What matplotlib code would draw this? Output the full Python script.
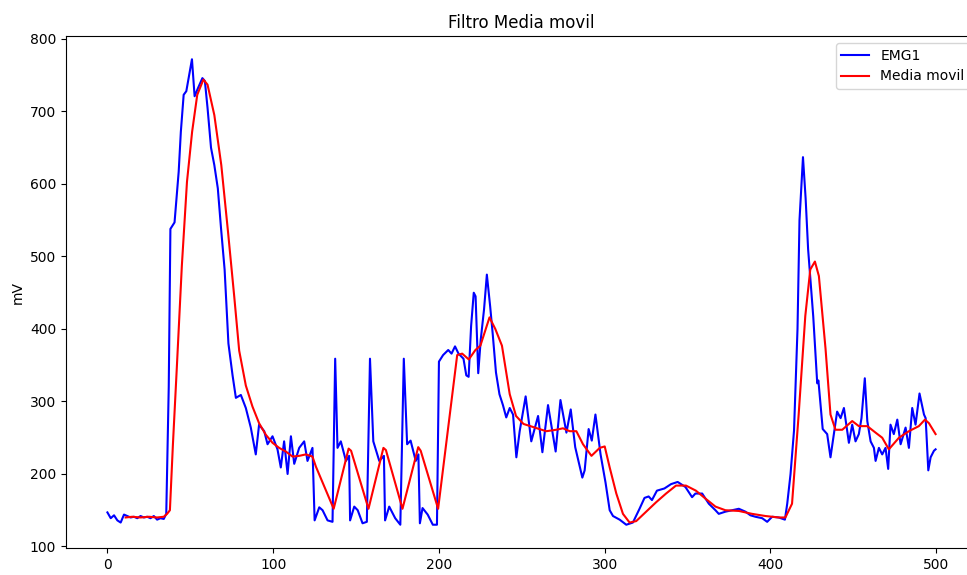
import matplotlib
matplotlib.use("Agg")
from matplotlib import pyplot as plt

# EMG1 signal (sample index, mV)
emg_x = [0, 2, 4, 6, 8, 10, 12, 14, 16, 18, 20, 22, 24, 26, 28, 30, 32, 34, 35.5, 37, 38, 40.5, 43, 44.3, 46,
         47.6, 51, 52.6, 54.6, 57.3, 58.8, 60.4, 62.5, 64.5, 66.6, 68.5, 70.7, 73, 75.5, 77.5, 80.5, 83.5, 86.5,
         89.5, 91.5, 94.6, 96.6, 99.6, 102.6, 104.6, 106.6, 108.7, 110.7, 112.7, 115.7, 118.7, 120.7, 123.7,
         125, 127.8, 129.8, 132.8, 135.8, 137.4, 138.8, 140.8, 143.9, 145.8, 146.4, 148.9, 151, 153.9, 156.5,
         158.4, 160.4, 164, 166.8, 167.5, 170, 173.6, 176.7, 178.8, 180.8, 182.9, 186, 187.6, 188.5, 190.1,
         193.2, 196.3, 198.8, 200, 202.5, 205.6, 207.6, 209.7, 211.8, 214.8, 216.5, 217.9, 219.4, 221, 222.1,
         223.7, 225.2, 227.2, 228.9, 230.9, 232.4, 234.4, 236.5, 238.6, 240.6, 242.7, 244.7, 246.7, 248.7,
         252.3, 255.7, 259.8, 262.4, 265.8, 270.4, 273.3, 275.3, 276.9, 279.5, 282.2, 286.5, 287.9, 290.3,
         292.2, 294.4, 297.5, 300.5, 303, 305, 309, 313, 317, 321, 324, 326.5, 328.5, 331.5, 336, 340, 344,
         348.7, 352.7, 354.7, 358.8, 362.8, 366.8, 368.8, 372.8, 376.9, 380.9, 384.9, 387.9, 390.9, 395, 398,
         401, 405, 408.7, 410.1, 412.1, 414.2, 416.3, 417.5, 419.6, 421.2, 422.7, 425.8, 428.2, 428.9, 431.5,
         434.2, 436.2, 438.2, 440.2, 442.3, 444.3, 446.3, 447.3, 449.3, 451.3, 453.3, 454.9, 456.9, 458.4,
         460.4, 462.4, 463.4, 465.4, 467.4, 469.4, 471, 472.4, 474.4, 476.5, 478.5, 481.5, 483.5, 485.5,
         487.5, 489.9, 492.6, 493.6, 495.2, 496.6, 498.6, 499.6]
emg_y = [147, 139, 143, 136, 133, 144, 142, 140, 141, 139, 142, 140, 141, 139, 142, 137, 139, 138, 145, 320, 538,
         547, 617, 672, 723, 728, 772, 721, 732, 746, 742, 705, 650, 626, 594, 540, 482, 380, 336, 305, 309, 291,
         264, 227, 268, 259, 241, 252, 234, 209, 245, 200, 252, 214, 236, 245, 218, 236, 136, 154, 150, 136, 134,
         359, 236, 245, 218, 225, 136, 155, 150, 132, 134, 359, 245, 218, 225, 136, 155, 139, 130, 359, 241, 246,
         218, 227, 132, 153, 144, 130, 130, 355, 364, 371, 366, 376, 366, 359, 336, 334, 404, 450, 445, 339, 385,
         427, 475, 431, 394, 340, 310, 295, 278, 291, 282, 223, 259, 307, 245, 280, 230, 295, 231, 302, 277, 257,
         289, 237, 195, 205, 262, 246, 282, 227, 188, 150, 142, 137, 130, 133, 152, 167, 169, 164, 177, 180, 186,
         189, 182, 168, 173, 173, 159, 150, 145, 148, 150, 152, 148, 143, 141, 139, 134, 141, 140, 137, 159, 200,
         260, 400, 550, 637, 580, 510, 417, 325, 329, 262, 255, 223, 255, 286, 277, 291, 259, 243, 268, 245, 255,
         277, 332, 273, 245, 236, 218, 236, 227, 236, 207, 268, 255, 275, 241, 264, 236, 291, 268, 311, 282, 277,
         205, 223, 232, 234]

# moving average curve
mm_x = [11, 15, 20, 25, 30, 34, 36, 37.7, 39.5, 41.9, 44.9, 48, 51.1, 54.2, 57.9, 60.4, 64.5, 68.7, 72.8, 76.5,
        79.5, 83.5, 87.5, 91.5, 95.6, 99.6, 103.6, 107.6, 111.7, 115.7, 119.7, 123.7, 125.8, 136.5, 145.5, 147,
        157.5, 166.5, 168, 178, 187.5, 189, 199.5, 211, 214, 218, 222, 225, 230.5, 234, 238, 242.7, 246.5, 251,
        256.5, 260.5, 264.8, 270.8, 274.8, 278.9, 282.9, 286.9, 292, 297, 300, 303, 307, 311, 315, 319, 325, 331,
        337, 343, 349, 355, 360.8, 366.8, 372.8, 380.9, 388.9, 397, 405, 409, 413, 417, 421, 424, 426.8, 429.2,
        433.2, 436.2, 439.2, 443.3, 449.3, 453.3, 458.4, 463.4, 467.4, 471.4, 477.5, 483.5, 489.5, 493.2, 495.6,
        499.6]
mm_y = [140, 141, 140, 141, 140, 141, 145, 150, 240, 348, 487, 603, 672, 723, 744, 737, 695, 626, 533, 445,
        370, 322, 293, 270, 254, 243, 236, 231, 224, 225, 227, 224, 210, 152, 235, 232, 152, 236, 233, 152, 237,
        232, 152, 364, 366, 358, 371, 377, 416, 400, 377, 310, 280, 269, 265, 262, 259, 261, 263, 259, 259, 241,
        225, 236, 238, 209, 173, 145, 133, 135, 148, 161, 173, 184, 184, 177, 166, 155, 150, 149, 145, 142, 140,
        140, 159, 282, 418, 482, 493, 473, 373, 282, 261, 261, 273, 266, 266, 257, 250, 234, 250, 259, 266, 275,
        270, 255]

fig = plt.figure(figsize=(9.67, 5.75), dpi=100)
ax = fig.add_axes([66/967, 1-548/575, 911/967, 512/575])
ax.plot(emg_x, emg_y, color='blue', lw=1.5, label='EMG1')
ax.plot(mm_x, mm_y, color='red', lw=1.5, label='Media movil')
ax.set_title('Filtro Media movil')
ax.set_ylabel('mV')
ax.legend(loc='upper right')
fig.savefig('out.png', dpi=100)
